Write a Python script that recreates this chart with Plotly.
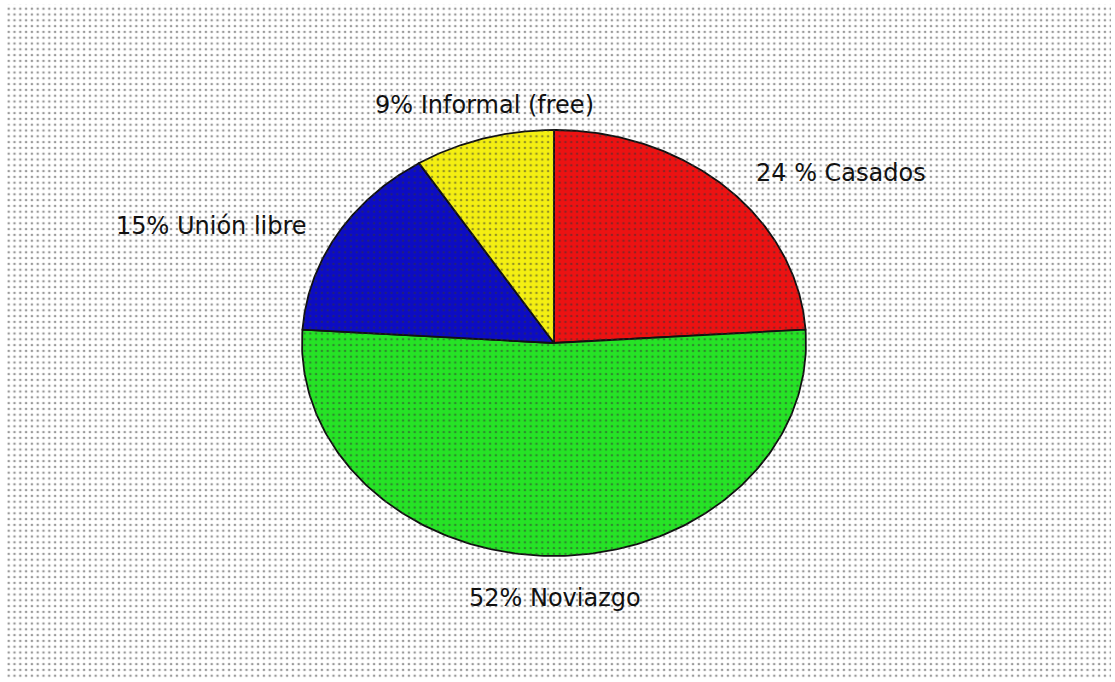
import numpy as np
import plotly.graph_objects as go

# ---- data ----
categories = ["Casados", "Noviazgo", "Unión libre", "Informal (free)"]
values = [24, 52, 15, 9]
label_texts = ["24 % Casados", "52% Noviazgo", "15% Unión libre", "9% Informal (free)"]
colors = ["#ec1212", "#26e326", "#0c0cc4", "#f4ef12"]

# ---- layout constants (pixels) ----
W, H = 1115, 682
cx, cy, rx, ry = 554, 343, 252, 213
label_pos = [(841, 173), (555, 598), (211, 226), (484, 105)]

fig = go.Figure()

total = float(sum(values))
start = 90.0
for cat, v, col in zip(categories, values, colors):
    sweep = 360.0 * v / total
    th = np.radians(np.linspace(start, start - sweep, 200))
    xs = np.concatenate([[cx], cx + rx * np.cos(th), [cx]])
    ys = np.concatenate([[cy], cy - ry * np.sin(th), [cy]])
    fig.add_trace(go.Scatter(x=xs, y=ys, mode="lines", fill="toself",
                             fillcolor=col, line=dict(color="#111111", width=1.8),
                             name=cat, hoverinfo="name", showlegend=False))
    start -= sweep

# dotted background overlay
x0, x1, y0, y1 = 7, 1111, 4, 679
fig.add_trace(go.Scatter(x=[x0, x1, x1, x0, x0], y=[y0, y0, y1, y1, y0],
                         mode="lines", fill="toself", line=dict(width=0, color="rgba(0,0,0,0)"),
                         fillcolor="rgba(0,0,0,0)",
                         fillpattern=dict(shape=".", size=5.8, solidity=0.16,
                                          fgcolor="#333333", bgcolor="rgba(0,0,0,0)",
                                          fillmode="overlay"),
                         hoverinfo="skip", showlegend=False))

for txt, (lx, ly) in zip(label_texts, label_pos):
    fig.add_annotation(x=lx, y=ly, text=txt, showarrow=False, xanchor="center",
                       yanchor="middle",
                       font=dict(family="DejaVu Sans", size=24, color="#111111"))

fig.update_layout(width=W, height=H, margin=dict(l=0, r=0, t=0, b=0),
                  paper_bgcolor="white", plot_bgcolor="white",
                  xaxis=dict(range=[0, W], visible=False, fixedrange=True),
                  yaxis=dict(range=[H, 0], visible=False, fixedrange=True),
                  showlegend=False)

fig.write_html("out.html")
